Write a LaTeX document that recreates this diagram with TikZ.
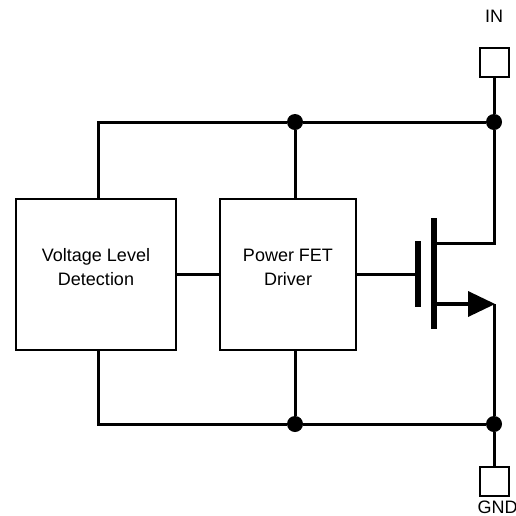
\documentclass[tikz,border=0pt]{standalone}
\usepackage{fontspec}
\setmainfont{Liberation Sans}
\newcommand{\liftline}[1]{\raisebox{1pt}[0pt][0pt]{#1}}
\tikzset{
  wire/.style={line width=3pt,black},
  heavywire/.style={line width=4.5pt,black},
  blockbox/.style={draw=black,line width=2pt,fill=white,align=center,font=\fontsize{18}{24}\selectfont,inner sep=0pt,anchor=north west},
  padbox/.style={draw=black,line width=2pt,fill=white,minimum width=29pt,minimum height=29pt,inner sep=0pt},
  junction/.style={circle,fill=black,minimum size=16pt,inner sep=0pt},
  plate/.style={line width=6pt,black},
  label/.style={font=\fontsize{18}{20}\selectfont,inner sep=0pt}
}
\begin{document}
\begin{tikzpicture}[x=1pt,y=-1pt]
\useasboundingbox (0,0) rectangle (516,515);
\node[label] (inl) at (494,16) {IN};
\node[label] (gndl) at (497.5,507) {GND};
\coordinate (tl) at (98,122);
\coordinate (bl) at (98,424);
\node[junction] (j1) at (295,122) {};
\node[junction] (j2) at (494,122) {};
\node[junction] (j3) at (295,424) {};
\node[junction] (j4) at (494,424) {};
\node[padbox] (in) at (494,62) {};
\node[padbox] (gnd) at (494,481) {};
\node[blockbox,minimum width=160pt,minimum height=151pt] (vld) at (15,198) {\liftline{Voltage Level}\\\liftline{Detection}};
\node[blockbox,minimum width=136pt,minimum height=151pt] (drv) at (219,198) {\liftline{Power FET}\\\liftline{Driver}};
\coordinate (gate) at (418,274);
\coordinate (ch) at (434,274);
\coordinate (dr) at (434,243);
\coordinate (drc) at (494,243);
\coordinate (sr) at (434,304);
\coordinate (src) at (494,304);
\coordinate (tip) at (470,304);
\draw[wire] (vld.north -| tl) -- (tl) -- (j1) -- (j2);
\draw[wire] (vld.south -| bl) -- (bl) -- (j3) -- (j4);
\draw[wire] (j1) -- (drv.north -| j1);
\draw[wire] (j3) -- (drv.south -| j3);
\draw[wire] (vld.east |- ch) -- (drv.west |- ch);
\draw[wire] (drv.east |- gate) -- (gate);
\draw[wire] (in) -- (j2);
\draw[wire] (j2) -- (drc) -- (dr);
\draw[heavywire] (sr) -- (tip);
\draw[wire] (src) -- (j4);
\draw[wire] (j4) -- (gnd);
\draw[plate] (418,241) -- (418,307);
\draw[plate] (434,218) -- (434,329);
\fill[black] (468,291) -- (495,304) -- (468,317) -- cycle;
\end{tikzpicture}
\end{document}
